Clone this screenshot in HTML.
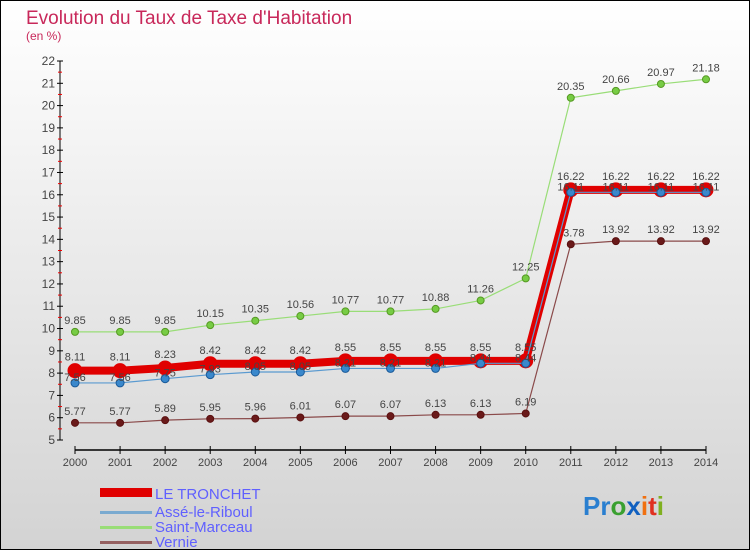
<!DOCTYPE html>
<html><head><meta charset="utf-8"><style>
body{margin:0}
#wrap{width:750px;height:550px;position:relative;box-sizing:border-box;border:1px solid #000;background:linear-gradient(#ffffff,#d3d3d3);overflow:hidden;font-family:"Liberation Sans",sans-serif}
</style></head><body>
<div id="wrap">
<svg id="chart" width="750" height="550" style="position:absolute;left:-1px;top:-1px">
<text x="26" y="24" font-size="19" fill="#c8285a">Evolution du Taux de Taxe d'Habitation</text>
<text x="26" y="40" font-size="12" fill="#c8285a">(en %)</text>
<g id="axes"></g><g id="series"></g>
<g>
<rect x="100" y="488" width="52" height="9" fill="#e00000"/>
<text x="155" y="499" font-size="15" fill="#6060ff">LE TRONCHET</text>
<rect x="100" y="511" width="52" height="3" fill="#7aaad0"/>
<text x="155" y="517" font-size="15" fill="#6060ff">Assé-le-Riboul</text>
<rect x="100" y="526" width="52" height="3" fill="#99dd77"/>
<text x="155" y="532" font-size="15" fill="#6060ff">Saint-Marceau</text>
<rect x="100" y="541" width="52" height="3" fill="#956060"/>
<text x="155" y="547" font-size="15" fill="#6060ff">Vernie</text>
</g>
<text x="583" y="515" font-size="26" font-weight="bold"><tspan fill="#2a7fd0">Pr</tspan><tspan fill="#3aa030">o</tspan><tspan fill="#1060c0">x</tspan><tspan fill="#f07010">i</tspan><tspan fill="#e03020">t</tspan><tspan fill="#80b020">i</tspan></text>
</svg>
</div>
<script>
const years=[2000,2001,2002,2003,2004,2005,2006,2007,2008,2009,2010,2011,2012,2013,2014];
const tronchet=[8.11,8.11,8.23,8.42,8.42,8.42,8.55,8.55,8.55,8.55,8.55,16.22,16.22,16.22,16.22];
const asse=[7.56,7.56,7.75,7.93,8.05,8.05,8.21,8.21,8.21,8.44,8.44,16.11,16.11,16.11,16.11];
const marceau=[9.85,9.85,9.85,10.15,10.35,10.56,10.77,10.77,10.88,11.26,12.25,20.35,20.66,20.97,21.18];
const vernie=[5.77,5.77,5.89,5.95,5.96,6.01,6.07,6.07,6.13,6.13,6.19,13.78,13.92,13.92,13.92];
const yTicks=[5,6,7,8,9,10,11,12,13,14,15,16,17,18,19,20,21,22];
const NS="http://www.w3.org/2000/svg";
const xS=i=>75+i*(706-75)/(years.length-1);
const yS=v=>440-(v-5)*(440-61)/17;
function mk(t,a,p){const e=document.createElementNS(NS,t);for(const k in a)e.setAttribute(k,a[k]);p.appendChild(e);return e;}
const ax=document.getElementById('axes');
let l=mk('line',{x1:60,y1:yS(22),x2:60,y2:440,stroke:'#000'},ax);


l=mk('line',{x1:75,y1:450,x2:706,y2:450,stroke:'#000','stroke-width':1.5},ax);


yTicks.forEach(v=>{
 mk('line',{x1:57,x2:63,y1:yS(v),y2:yS(v),stroke:'#000'},ax);
 if(v<22)mk('line',{x1:58,x2:62,y1:yS(v+0.5),y2:yS(v+0.5),stroke:'#e00'},ax);
 const t=mk('text',{x:55,y:yS(v)+4,'font-size':12,'text-anchor':'end',fill:'#444'},ax);t.textContent=v;
 
 
});
years.forEach((y,i)=>{
 mk('line',{x1:xS(i),x2:xS(i),y1:446,y2:454,stroke:'#000'},ax);
 const t=mk('text',{x:xS(i),y:466,'font-size':11,'text-anchor':'middle',fill:'#444'},ax);t.textContent=y;
 
 
});
const sg=document.getElementById('series');
function series(vals,name,color,w,r,dot,stroke,labelDy){
 const g=mk('g',{},sg);
 
 
 const pl=mk('polyline',{points:vals.map((v,i)=>xS(i)+','+yS(v)).join(' '),fill:'none',stroke:color,'stroke-width':w},g);
 
 
 vals.forEach((v,i)=>{
  const c=mk('circle',{cx:xS(i),cy:yS(v),r:r,fill:dot,stroke:stroke},g);
  
  
  const t=mk('text',{x:xS(i),y:yS(v)+labelDy,'font-size':11,'text-anchor':'middle',fill:'#444'},g);t.textContent=v;
  
  
 });
}
series(vernie,'vernie','#8a4a4a',1.2,3.5,'#6a1a1a','#5a1010',-8);
series(marceau,'saint-marceau','#99dd77',1.2,3.5,'#77cc44','#559922',-8);
series(tronchet,'le-tronchet','#e00000',8,7,'#e00000','#e00000',-10);
series(asse,'asse-le-riboul','#5a9ad0',1.2,4,'#3a88cc','#1a5a99',-2);
</script>
</body></html>
